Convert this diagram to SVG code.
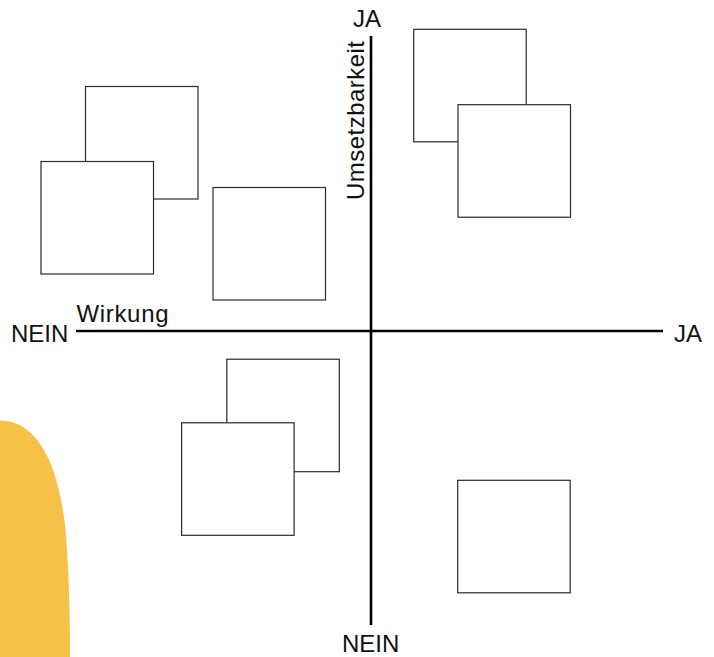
<svg xmlns="http://www.w3.org/2000/svg" width="714" height="657" viewBox="0 0 714 657">
<style>
.box{fill:#fff;stroke:#2a2a2a;stroke-width:1.2}
.axis{stroke:#000;stroke-width:2.6;fill:none}
.lbl{font-family:"Liberation Sans",Arial,sans-serif;font-size:24px;fill:#111}
</style>
<rect width="714" height="657" fill="#fff"/>
<path id="blob" d="M0,420.5 C35,421 57,458 65,525 C69,565 70,620 70,657 L0,657 Z" fill="#F5C146"/>
<g id="connectors">
<line class="axis" x1="76" y1="331" x2="663" y2="331"/>
<line class="axis" x1="371" y1="36" x2="371" y2="625"/>
</g>
<g id="node-tl-back"><rect class="box" x="85.5" y="86.5" width="112.5" height="112.5"/></g>
<g id="node-tl-front"><rect class="box" x="41" y="161.5" width="112.5" height="112.5"/></g>
<g id="node-tl-mid"><rect class="box" x="213" y="187.5" width="112.5" height="112.5"/></g>
<g id="node-tr-back"><rect class="box" x="413.7" y="29.3" width="112.5" height="112.5"/></g>
<g id="node-tr-front"><rect class="box" x="458" y="104.7" width="112.5" height="112.5"/></g>
<g id="node-bl-back"><rect class="box" x="226.8" y="359.2" width="112.5" height="112.5"/></g>
<g id="node-bl-front"><rect class="box" x="181.6" y="422.8" width="112.5" height="112.5"/></g>
<g id="node-br"><rect class="box" x="457.7" y="480.3" width="112.5" height="112.5"/></g>
<g id="labels">
<text class="lbl" x="353" y="27">JA</text>
<text class="lbl" x="342" y="652">NEIN</text>
<text class="lbl" x="11" y="342">NEIN</text>
<text class="lbl" x="674" y="342">JA</text>
<text class="lbl" x="76.5" y="322" textLength="92">Wirkung</text>
<text class="lbl" transform="translate(363.5,200) rotate(-90)" textLength="159">Umsetzbarkeit</text>
</g>
</svg>
